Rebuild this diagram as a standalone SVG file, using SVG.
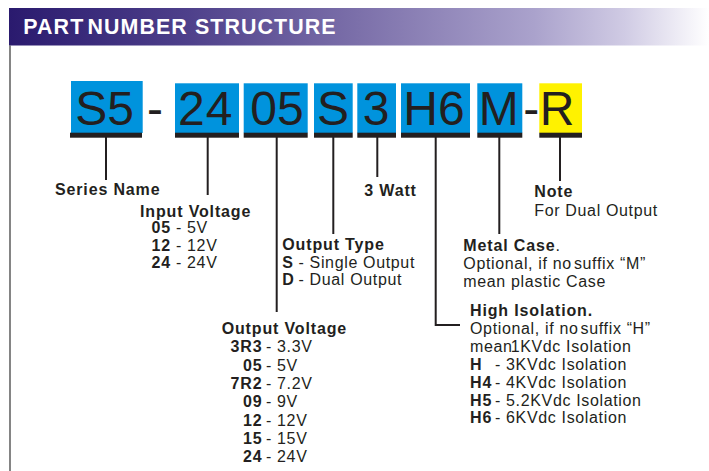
<svg xmlns="http://www.w3.org/2000/svg" width="709" height="471" viewBox="0 0 709 471">
<defs>
<linearGradient id="hdr" x1="0" y1="0" x2="1" y2="0">
<stop offset="0" stop-color="#2a1a6e"/>
<stop offset="0.25" stop-color="#4d3f8a"/>
<stop offset="0.5" stop-color="#7c70aa"/>
<stop offset="0.75" stop-color="#aaa2cc"/>
<stop offset="0.88" stop-color="#d0cbe4"/>
<stop offset="1" stop-color="#ffffff"/>
</linearGradient>
<style>
.code{font-family:"Liberation Sans",Arial,sans-serif;font-size:48px;fill:#231f20;text-anchor:middle}
.blue{fill:#0093dd}
.yel{fill:#fff200}
.bar{fill:#231f20}
.t{font-family:"Liberation Sans",Arial,sans-serif;font-size:16px;fill:#231f20;letter-spacing:0.65px}
.b{font-weight:bold;letter-spacing:0.85px}
.e{text-anchor:end}
.ln{stroke:#231f20;stroke-width:2;fill:none}
</style>
</defs>
<rect x="0" y="0" width="709" height="471" fill="#ffffff"/>
<g id="header">
<rect x="9" y="8" width="700" height="37.5" fill="url(#hdr)"/>
<text x="23.3" y="34.3" font-family="'Liberation Sans',Arial,sans-serif" font-size="21.4" font-weight="bold" fill="#ffffff" letter-spacing="1.1">PART <tspan dx="-4">NUMBER</tspan> STRUCTURE</text>
</g>
<line x1="10" y1="45.5" x2="10" y2="471" stroke="#333333" stroke-width="1.2"/>

<g id="code-S5"><rect class="blue" x="71" y="81" width="71.7" height="52"/><rect class="bar" x="70" y="132.7" width="72" height="5"/><text class="code" x="104.7" y="125">S5</text></g>
<text class="code" x="155" y="125">-</text>
<g id="code-24"><rect class="blue" x="175" y="83.3" width="64" height="49.7"/><rect class="bar" x="175" y="132.7" width="64" height="5"/><text class="code" x="205.8" y="125" letter-spacing="1">24</text></g>
<g id="code-05"><rect class="blue" x="243.7" y="83.3" width="64" height="49.7"/><rect class="bar" x="243.7" y="132.7" width="64" height="5"/><text class="code" x="277" y="125">05</text></g>
<g id="code-S"><rect class="blue" x="314" y="83.3" width="38.7" height="49.7"/><rect class="bar" x="314" y="132.7" width="38.7" height="5"/><text class="code" x="333" y="125">S</text></g>
<g id="code-3"><rect class="blue" x="357.3" y="83.3" width="38.7" height="49.7"/><rect class="bar" x="357.3" y="132.7" width="38.7" height="5"/><text class="code" x="376.2" y="125">3</text></g>
<g id="code-H6"><rect class="blue" x="401" y="83.3" width="69" height="49.7"/><rect class="bar" x="401" y="132.7" width="69" height="5"/><text class="code" x="434" y="125">H6</text></g>
<g id="code-M"><rect class="blue" x="477.3" y="83.3" width="45" height="49.7"/><rect class="bar" x="477.3" y="132.7" width="45" height="5"/><text class="code" x="498.7" y="125">M</text></g>
<text class="code" x="531.3" y="125">-</text>
<g id="code-R"><rect class="yel" x="539.3" y="83.3" width="42.7" height="49.7"/><rect class="bar" x="539.3" y="132.7" width="42.7" height="5"/><text class="code" x="557" y="125">R</text></g>

<g id="connectors">
<line class="ln" x1="106" y1="137" x2="106" y2="180"/>
<line class="ln" x1="207.7" y1="137" x2="207.7" y2="195"/>
<line class="ln" x1="276.7" y1="137" x2="276.7" y2="312"/>
<line class="ln" x1="333.3" y1="137" x2="333.3" y2="234"/>
<line class="ln" x1="377.3" y1="137" x2="377.3" y2="177"/>
<polyline class="ln" points="435.7,137 435.7,325 460,325"/>
<line class="ln" x1="499.3" y1="137" x2="499.3" y2="234"/>
<line class="ln" x1="560" y1="137" x2="560" y2="181"/>
</g>

<g id="series-name"><text class="t b" x="55" y="195">Series Name</text></g>

<g id="input-voltage">
<text class="t b" x="140" y="217">Input Voltage</text>
<text class="t b e" x="171" y="233.3">05</text><text class="t" x="176" y="233.3">- 5V</text>
<text class="t b e" x="171" y="250.8">12</text><text class="t" x="176" y="250.8">- 12V</text>
<text class="t b e" x="171" y="268.3">24</text><text class="t" x="176" y="268.3">- 24V</text>
</g>

<g id="output-type">
<text class="t b" x="282.3" y="250">Output Type</text>
<text class="t b" x="282.3" y="267.5">S</text><text class="t" x="298.5" y="267.5">- Single Output</text>
<text class="t b" x="282.3" y="285.3">D</text><text class="t" x="298.5" y="285.3">- Dual Output</text>
</g>

<g id="output-voltage">
<text class="t b" x="221.7" y="334.3">Output Voltage</text>
<text class="t b e" x="262.5" y="352.3">3R3</text><text class="t" x="266" y="352.3">- 3.3V</text>
<text class="t b e" x="262.5" y="370.6">05</text><text class="t" x="266" y="370.6">- 5V</text>
<text class="t b e" x="262.5" y="388.9">7R2</text><text class="t" x="266" y="388.9">- 7.2V</text>
<text class="t b e" x="262.5" y="407.2">09</text><text class="t" x="266" y="407.2">- 9V</text>
<text class="t b e" x="262.5" y="425.5">12</text><text class="t" x="266" y="425.5">- 12V</text>
<text class="t b e" x="262.5" y="443.8">15</text><text class="t" x="266" y="443.8">- 15V</text>
<text class="t b e" x="262.5" y="462">24</text><text class="t" x="266" y="462">- 24V</text>
</g>

<g id="watt"><text class="t b" x="364.3" y="196">3 Watt</text></g>

<g id="note">
<text class="t b" x="534.3" y="197.3">Note</text>
<text class="t" x="534.3" y="215.7">For Dual Output</text>
</g>

<g id="metal-case">
<text class="t" x="463.3" y="250.7"><tspan class="b">Metal Case</tspan>.</text>
<text class="t" x="463.3" y="269.3">Optional, if no <tspan dx="-3">suffix “M”</tspan></text>
<text class="t" x="463.3" y="287">mean plastic Case</text>
</g>

<g id="high-isolation">
<text class="t b" x="470" y="316">High Isolation.</text>
<text class="t" x="470" y="333.5">Optional,  if no <tspan dx="-3">suffix “H”</tspan></text>
<text class="t" x="470" y="351.7">mean<tspan dx="-2">1KVdc Isolation</tspan></text>
<text class="t b" x="470" y="370">H</text><text class="t" x="495" y="370">- 3KVdc Isolation</text>
<text class="t b" x="470" y="387.5">H4</text><text class="t" x="495" y="387.5">- 4KVdc Isolation</text>
<text class="t b" x="470" y="405.5">H5</text><text class="t" x="495" y="405.5">- 5.2KVdc Isolation</text>
<text class="t b" x="470" y="423.3">H6</text><text class="t" x="495" y="423.3">- 6KVdc Isolation</text>
</g>
</svg>
